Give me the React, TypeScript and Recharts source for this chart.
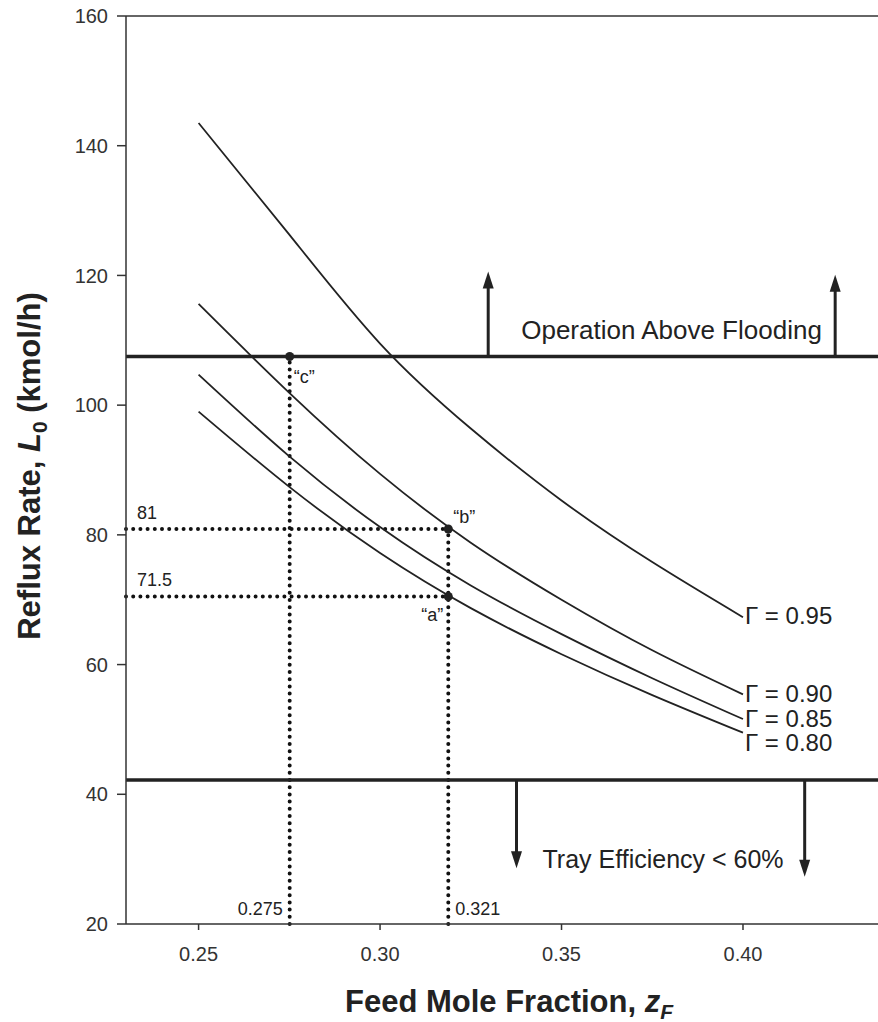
import { ComposedChart, Line, XAxis, YAxis, ReferenceLine, ReferenceDot } from 'recharts'

// feed mole fraction (x) and reflux rate curves L0 for each tray efficiency
const zF = [0.25, 0.275, 0.3, 0.325, 0.35, 0.375, 0.4]
const gamma95 = [143.5, 126.3, 109.5, 96.4, 85.3, 75.8, 67.3]
const gamma90 = [115.6, 101.9, 89.4, 78.8, 70.0, 62.2, 55.4]
const gamma85 = [104.7, 92.1, 81.2, 72.2, 64.7, 57.9, 51.6]
const gamma80 = [99.0, 87.4, 77.2, 68.7, 61.6, 55.3, 49.5]
const seriesKeys = ['g95', 'g90', 'g85', 'g80']
const seriesNames = ['Γ = 0.95', 'Γ = 0.90', 'Γ = 0.85', 'Γ = 0.80']

const xTicks = [0.25, 0.3, 0.35, 0.4]
const yTicks = [20, 40, 60, 80, 100, 120, 140, 160]

// operating limits
const floodingL0 = 107.5
const trayEffL0 = 42.2
const upArrowX = [0.3298, 0.4254]
const upArrowTip = [120.6, 120.1]
const downArrowX = [0.3376, 0.417]
const downArrowTip = [28.6, 27.3]

// read-off points "a", "b", "c"
const pointA = { z: 0.3188, L: 70.5 }
const pointB = { z: 0.3188, L: 80.9 }
const pointC = { z: 0.2751, L: 107.5 }
const readLabels = { a: '71.5', b: '81', zc: '0.275', zab: '0.321' }

const data = zF.map((z, i) => ({ z, g95: gamma95[i], g90: gamma90[i], g85: gamma85[i], g80: gamma80[i] }))
const seriesLast = [gamma95, gamma90, gamma85, gamma80].map(s => s[s.length - 1])

const FONT = "'Liberation Sans', Arial, Helvetica, sans-serif"
const INK = '#222'
const XMIN = 0.23
const XMAX = 0.4372

const txt = (s: string, dx: number, dy: number, size: number, anchor: 'start' | 'end' | 'middle' = 'start') =>
  (p: any) => (
    <text x={p.cx + dx} y={p.cy + dy} fontSize={size} fill={INK} fontFamily={FONT} textAnchor={anchor}>{s}</text>
  )

const upHead = (p: any) => <path d={`M${p.cx},${p.cy} L${p.cx - 5.5},${p.cy + 17} L${p.cx + 5.5},${p.cy + 17} Z`} fill={INK} />
const downHead = (p: any) => <path d={`M${p.cx},${p.cy} L${p.cx - 5.5},${p.cy - 17} L${p.cx + 5.5},${p.cy - 17} Z`} fill={INK} />

const dottedShape = (p: any) => (
  <line x1={p.x1} y1={p.y1} x2={p.x2} y2={p.y2} stroke="#111" strokeWidth={4} strokeDasharray="0 7.2" strokeLinecap="round" />
)

const XTick = ({ x, y, payload }: any) => (
  <text x={x} y={y} dy="0.71em" textAnchor="middle" fontSize={20} fill="#333" fontFamily={FONT}>
    {Number(payload.value).toFixed(2)}
  </text>
)
const YTick = ({ x, y, payload }: any) => (
  <text x={x} y={y} dy="0.36em" textAnchor="end" fontSize={20} fill="#333" fontFamily={FONT}>
    {payload.value}
  </text>
)

const YTitle = () => (
  <text transform="translate(40,466) rotate(-90)" textAnchor="middle" fontSize={31} fontWeight="bold" fill={INK} fontFamily={FONT}>
    Reflux Rate, <tspan fontStyle="italic">L</tspan><tspan fontSize={21} dy={7}>0</tspan><tspan dy={-7}> (kmol/h)</tspan>
  </text>
)

const XTitle = () => (
  <text x={509} y={1012} textAnchor="middle" fontSize={31} fontWeight="bold" fill={INK} fontFamily={FONT}>
    Feed Mole Fraction, <tspan fontStyle="italic">z</tspan><tspan fontStyle="italic" fontSize={21} dy={7}>F</tspan>
  </text>
)

const labelDy = [7, 8, 8, 18]

export default function App() {
  return (
    <div style={{ position: 'absolute', left: 0, top: 0, background: '#fff' }}>
      <ComposedChart width={878} height={1022} data={data} margin={{ top: 16, right: 0, bottom: 0, left: 0 }}>
        <XAxis
          type="number" dataKey="z" domain={[XMIN, XMAX]} ticks={xTicks} interval={0} allowDataOverflow
          height={98} tickSize={6} tickMargin={17} tick={<XTick />}
          axisLine={{ stroke: '#333', strokeWidth: 1.5 }} tickLine={{ stroke: '#333', strokeWidth: 1.5 }}
          label={{ content: () => <XTitle /> }}
        />
        <YAxis
          type="number" domain={[20, 160]} ticks={yTicks} interval={0} allowDataOverflow width={126}
          tickSize={9} tickMargin={9} tick={<YTick />}
          axisLine={{ stroke: '#333', strokeWidth: 1.5 }} tickLine={{ stroke: '#333', strokeWidth: 1.5 }}
          label={{ content: () => <YTitle /> }}
        />
        <ReferenceLine y={160} stroke="#333" strokeWidth={1.5} />

        {/* read-off construction lines */}
        <ReferenceLine segment={[{ x: pointC.z, y: 20 }, { x: pointC.z, y: pointC.L }]} shape={dottedShape} />
        <ReferenceLine segment={[{ x: pointB.z, y: 20 }, { x: pointB.z, y: pointB.L }]} shape={dottedShape} />
        <ReferenceLine segment={[{ x: XMIN, y: pointB.L }, { x: pointB.z, y: pointB.L }]} shape={dottedShape} />
        <ReferenceLine segment={[{ x: XMIN, y: pointA.L }, { x: pointA.z, y: pointA.L }]} shape={dottedShape} />

        {/* limits */}
        <ReferenceLine y={floodingL0} stroke={INK} strokeWidth={3.5} />
        <ReferenceLine y={trayEffL0} stroke={INK} strokeWidth={3.5} />
        {upArrowX.map((x, i) => (
          <ReferenceLine key={'u' + i} segment={[{ x, y: floodingL0 }, { x, y: upArrowTip[i] - 2 }]} stroke={INK} strokeWidth={3} />
        ))}
        {upArrowX.map((x, i) => (
          <ReferenceDot key={'uh' + i} x={x} y={upArrowTip[i]} r={0} shape={upHead} />
        ))}
        {downArrowX.map((x, i) => (
          <ReferenceLine key={'d' + i} segment={[{ x, y: trayEffL0 }, { x, y: downArrowTip[i] + 2 }]} stroke={INK} strokeWidth={3} />
        ))}
        {downArrowX.map((x, i) => (
          <ReferenceDot key={'dh' + i} x={x} y={downArrowTip[i]} r={0} shape={downHead} />
        ))}

        {seriesKeys.map(k => (
          <Line key={k} type="natural" dataKey={k} stroke={INK} strokeWidth={1.8} dot={false} isAnimationActive={false} />
        ))}

        {/* points and labels */}
        <ReferenceDot x={pointA.z} y={pointA.L} r={4.5} fill={INK} stroke="none" />
        <ReferenceDot x={pointB.z} y={pointB.L} r={4.5} fill={INK} stroke="none" />
        <ReferenceDot x={pointC.z} y={pointC.L} r={4.5} fill={INK} stroke="none" />
        <ReferenceDot x={pointA.z} y={pointA.L} r={0} shape={txt('“a”', -5, 25, 18, 'end')} />
        <ReferenceDot x={pointB.z} y={pointB.L} r={0} shape={txt('“b”', 5, -6, 18)} />
        <ReferenceDot x={pointC.z} y={pointC.L} r={0} shape={txt('“c”', 4, 26, 18)} />
        <ReferenceDot x={XMIN} y={pointB.L} r={0} shape={txt(readLabels.b, 11, -10, 18)} />
        <ReferenceDot x={XMIN} y={pointA.L} r={0} shape={txt(readLabels.a, 11, -10, 18)} />
        <ReferenceDot x={pointC.z} y={20} r={0} shape={txt(readLabels.zc, -7, -9, 18, 'end')} />
        <ReferenceDot x={pointB.z} y={20} r={0} shape={txt(readLabels.zab, 7, -9, 18)} />

        {seriesNames.map((n, i) => (
          <ReferenceDot key={n} x={zF[zF.length - 1]} y={seriesLast[i]} r={0} shape={txt(n, 2, labelDy[i], 24)} />
        ))}
        <ReferenceDot x={0.3298} y={floodingL0} r={0} shape={txt('Operation Above Flooding', 33, -18, 26)} />
        <ReferenceDot x={0.3376} y={trayEffL0} r={0} shape={txt('Tray Efficiency < 60%', 26, 88, 25)} />
      </ComposedChart>
    </div>
  )
}
